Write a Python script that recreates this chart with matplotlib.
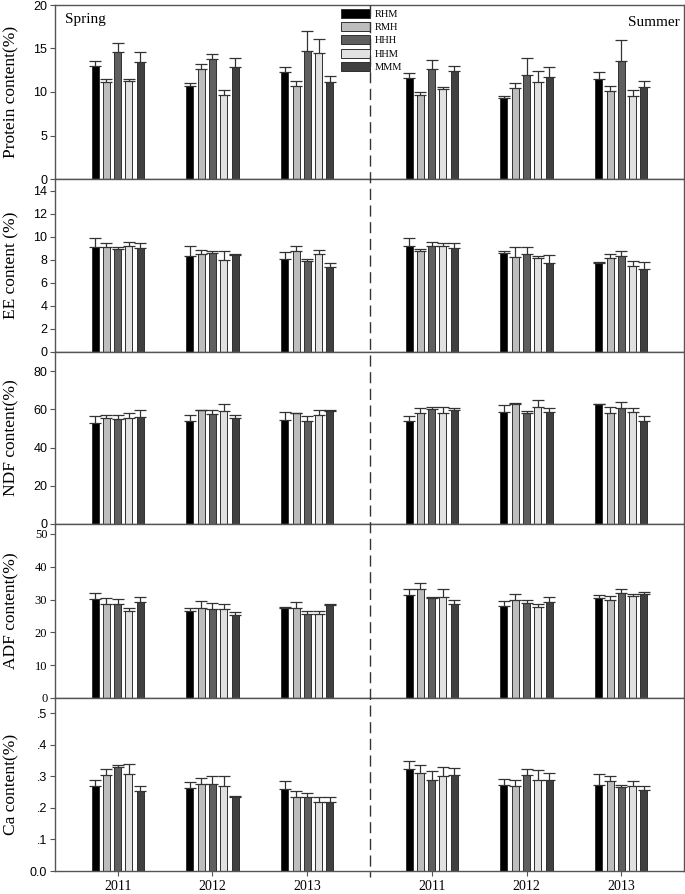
import matplotlib
matplotlib.use("Agg")
import matplotlib.pyplot as plt
import matplotlib.transforms as mtransforms
from matplotlib.lines import Line2D
import numpy as np

years = ["2011", "2012", "2013"]
seasons = ["Spring", "Summer"]
treatments = ["RHM", "RMH", "HHH", "HHM", "MMM"]
colors = ["#000000", "#bdbdbd", "#5f5f5f", "#e1e1e1", "#404040"]

# values per treatment: [Spring2011, Spring2012, Spring2013, Summer2011, Summer2012, Summer2013]
protein_mean = {
    "RHM": [13.0, 10.65, 12.26, 11.65, 9.31, 11.53],
    "RMH": [11.1, 12.64, 10.73, 9.62, 10.42, 10.1],
    "HHH": [14.56, 13.83, 14.7, 12.68, 11.9, 13.6],
    "HHM": [11.3, 9.7, 14.44, 10.34, 11.1, 9.5],
    "MMM": [13.4, 12.84, 11.1, 12.41, 11.76, 10.57],
}
protein_err = {
    "RHM": [0.6, 0.38, 0.64, 0.5, 0.26, 0.73],
    "RMH": [0.35, 0.56, 0.53, 0.38, 0.61, 0.63],
    "HHH": [1.04, 0.54, 2.35, 1.0, 2.05, 2.4],
    "HHM": [0.2, 0.5, 1.62, 0.26, 1.31, 0.7],
    "MMM": [1.16, 1.11, 0.7, 0.54, 1.08, 0.73],
}
ee_mean = {
    "RHM": [9.09, 8.31, 8.08, 9.18, 8.57, 7.7],
    "RMH": [9.12, 8.46, 8.72, 8.72, 8.2, 8.11],
    "HHH": [8.92, 8.57, 7.88, 9.15, 8.54, 8.31],
    "HHM": [9.15, 7.97, 8.46, 9.15, 8.14, 7.42],
    "MMM": [9.0, 8.4, 7.33, 9.06, 7.76, 7.21],
}
ee_err = {
    "RHM": [0.81, 0.87, 0.58, 0.69, 0.23, 0.09],
    "RMH": [0.34, 0.37, 0.48, 0.22, 0.89, 0.4],
    "HHH": [0.2, 0.2, 0.2, 0.4, 0.55, 0.46],
    "HHM": [0.35, 0.83, 0.37, 0.29, 0.2, 0.49],
    "MMM": [0.46, 0.1, 0.4, 0.4, 0.67, 0.61],
}
ndf_mean = {
    "RHM": [53.1, 53.8, 54.6, 53.8, 58.6, 62.7],
    "RMH": [55.3, 59.5, 58.1, 58.1, 62.8, 58.0],
    "HHH": [55.0, 57.4, 54.1, 60.2, 58.0, 60.6],
    "HHM": [55.7, 59.3, 56.9, 58.1, 61.3, 58.5],
    "MMM": [56.2, 55.3, 59.2, 59.5, 58.8, 53.8],
}
ndf_err = {
    "RHM": [3.5, 3.1, 4.0, 2.6, 3.7, 0.2],
    "RMH": [1.9, 0.3, 0.2, 2.6, 0.4, 3.4],
    "HHH": [1.9, 2.1, 2.3, 1.2, 1.0, 3.3],
    "HHM": [2.6, 3.4, 2.9, 3.2, 3.5, 2.2],
    "MMM": [3.3, 1.6, 0.2, 1.1, 1.9, 2.8],
}
adf_mean = {
    "RHM": [30.1, 26.5, 27.3, 31.3, 28.0, 30.6],
    "RMH": [28.6, 27.4, 27.3, 33.1, 29.7, 29.9],
    "HHH": [28.6, 27.2, 25.6, 30.5, 28.9, 31.9],
    "HHM": [26.5, 27.1, 25.6, 30.7, 27.6, 31.1],
    "MMM": [29.1, 25.2, 28.3, 28.7, 29.2, 31.7],
}
adf_err = {
    "RHM": [1.8, 1.0, 0.5, 1.9, 1.4, 0.9],
    "RMH": [1.9, 2.0, 1.9, 2.0, 1.9, 1.3],
    "HHH": [1.7, 1.7, 1.0, 0.4, 0.9, 1.4],
    "HHM": [0.9, 1.5, 1.0, 2.6, 1.1, 0.7],
    "MMM": [1.7, 0.9, 0.4, 1.2, 1.6, 0.5],
}
ca_mean = {
    "RHM": [0.269, 0.263, 0.259, 0.323, 0.273, 0.273],
    "RMH": [0.305, 0.277, 0.233, 0.309, 0.269, 0.284],
    "HHH": [0.329, 0.277, 0.233, 0.287, 0.303, 0.266],
    "HHM": [0.306, 0.269, 0.217, 0.300, 0.289, 0.269],
    "MMM": [0.254, 0.235, 0.217, 0.303, 0.287, 0.256],
}
ca_err = {
    "RHM": [0.020, 0.018, 0.027, 0.027, 0.018, 0.033],
    "RMH": [0.018, 0.017, 0.019, 0.026, 0.019, 0.017],
    "HHH": [0.006, 0.023, 0.013, 0.030, 0.021, 0.007],
    "HHM": [0.033, 0.033, 0.018, 0.030, 0.032, 0.017],
    "MMM": [0.014, 0.002, 0.017, 0.022, 0.022, 0.014],
}

panels = [
    ("Protein content(%)", protein_mean, protein_err, (0, 20), [0, 5, 10, 15, 20], ["0", "5", "10", "15", "20"], "sans"),
    ("EE content (%)", ee_mean, ee_err, (0, 15), [0, 2, 4, 6, 8, 10, 12, 14], ["0", "2", "4", "6", "8", "10", "12", "14"], "sans"),
    ("NDF content(%)", ndf_mean, ndf_err, (0, 90), [0, 20, 40, 60, 80], ["0", "20", "40", "60", "80"], "sans"),
    ("ADF content(%)", adf_mean, adf_err, (0, 53), [0, 10, 20, 30, 40, 50], ["0", "10", "20", "30", "40", "50"], "serif"),
    ("Ca content(%)", ca_mean, ca_err, (0, 0.548), [0, 0.1, 0.2, 0.3, 0.4, 0.5], ["0.0", ".1", ".2", ".3", ".4", ".5"], "sans"),
]

SERIF = ["Liberation Serif", "DejaVu Serif"]
SANS = ["Liberation Sans", "DejaVu Sans"]

W, H = 685, 894
fig = plt.figure(figsize=(W / 100, H / 100), dpi=100)

left_px, right_px = 55, 684
edges_px = [5, 179, 352, 524, 698, 871]

season_gap = 1.31
group_x = np.array([0, 1, 2, 0 + season_gap + 2, 1 + season_gap + 2, 2 + season_gap + 2], dtype=float)
divider_x = (group_x[2] + group_x[3]) / 2
xlim = (-0.66, group_x[-1] + 0.66)
pitch = 0.119
bw = 0.074
spine_col = "#555555"

axes = []
for i, (ylabel, means, errs, ylim, yt, ytl, tfont) in enumerate(panels):
    top = 1 - edges_px[i] / H
    bot = 1 - edges_px[i + 1] / H
    ax = fig.add_axes([left_px / W, bot, (right_px - left_px) / W, top - bot])
    axes.append(ax)
    for k, t in enumerate(treatments):
        xs = group_x + (k - 2) * pitch
        m = np.array(means[t])
        e = np.array(errs[t])
        ax.bar(xs, m, width=bw, color=colors[k], edgecolor="#303030", linewidth=0.7,
               label=t, zorder=2)
        ax.errorbar(xs, m, yerr=[np.zeros_like(e), e], fmt="none", ecolor="#333333",
                    elinewidth=0.9, capsize=4, capthick=0.9, zorder=3)
    ax.set_xlim(*xlim)
    ax.set_ylim(*ylim)
    ax.set_yticks(yt)
    ax.set_yticklabels(ytl, family=SERIF if tfont == "serif" else SANS, fontsize=9)
    ax.tick_params(axis="y", direction="out", length=3.5, width=0.8, color=spine_col, pad=2)
    for s in ax.spines.values():
        s.set_color(spine_col)
        s.set_linewidth(1.0)
    if i < len(panels) - 1:
        ax.set_xticks([])
    else:
        ax.set_xticks(group_x)
        ax.set_xticklabels(years * 2, family=SERIF, fontsize=10)
        ax.tick_params(axis="x", direction="out", length=3.5, width=0.8, color=spine_col, pad=3)
    yc = 1 - (edges_px[i] + edges_px[i + 1]) / 2 / H
    fig.text(11 / W, yc, ylabel, rotation=90, ha="center", va="center",
             family=SERIF, fontsize=12.5)

ax0 = axes[0]
ax0.text(0.016, 0.915, seasons[0], transform=ax0.transAxes, ha="left", va="center",
         family=SERIF, fontsize=11)
ax0.text(0.994, 0.9, seasons[1], transform=ax0.transAxes, ha="right", va="center",
         family=SERIF, fontsize=11)

leg = ax0.legend(loc="upper left", bbox_to_anchor=((341 - left_px) / (right_px - left_px), 1 - 4 / 174),
                 frameon=False, prop={"family": SERIF, "size": 7.5},
                 handlelength=2.75, handleheight=0.95, labelspacing=0.3,
                 handletextpad=0.5, borderpad=0, borderaxespad=0)
for h in leg.legend_handles:
    h.set_edgecolor("#303030")

trans = mtransforms.blended_transform_factory(ax0.transData, fig.transFigure)
fig.add_artist(Line2D([divider_x, divider_x], [1 - 5 / H, 1 - 877 / H], transform=trans,
                      color="#333333", linewidth=1.0, dashes=(8, 4), zorder=5))

fig.savefig("out.png", dpi=100)
